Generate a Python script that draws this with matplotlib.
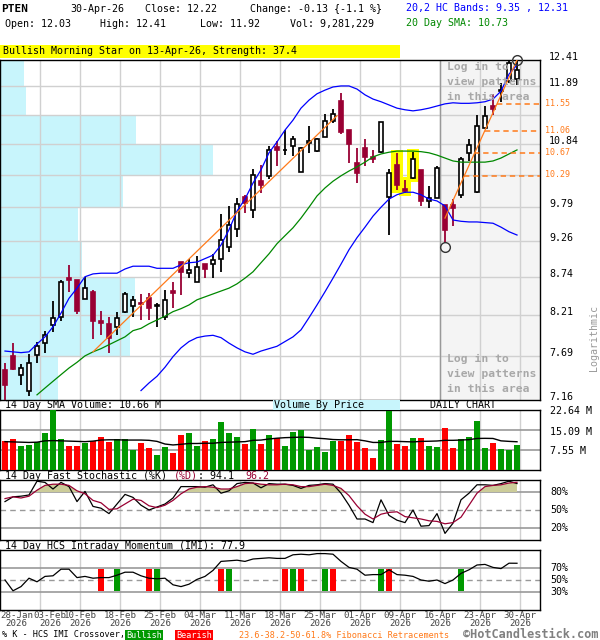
import numpy as np
import matplotlib
matplotlib.use("Agg")
import matplotlib.pyplot as plt
from matplotlib.patches import Rectangle
from matplotlib.ticker import NullLocator
from matplotlib.transforms import blended_transform_factory, offset_copy

# ---------------- data ----------------
opens = [7.52, 7.69, 7.45, 7.27, 7.70, 7.85, 8.09, 8.19, 8.72, 8.69,
         8.43, 8.52, 8.13, 8.10, 8.06, 8.25, 8.34, 8.38, 8.44, 8.34,
         8.19, 8.54, 8.95, 8.79, 8.67, 8.92, 8.92, 8.99, 9.17, 9.44,
         9.94, 9.73, 10.21, 10.28, 10.78, 10.72, 10.80, 10.36, 10.85, 10.71,
         10.96, 11.25, 11.61, 11.08, 10.51, 10.76, 10.61, 10.70, 9.94, 10.47,
         10.07, 10.25, 10.39, 9.88, 9.93, 9.82, 9.82, 9.98, 10.67, 10.03,
         11.12, 11.52, 11.81, 12.00, 12.03]
highs = [7.60, 7.85, 7.59, 7.71, 7.86, 8.00, 8.40, 8.69, 8.91, 8.70,
         8.74, 8.55, 8.27, 8.19, 8.25, 8.52, 8.47, 8.50, 8.51, 8.37,
         8.55, 8.67, 8.95, 9.00, 9.04, 8.92, 9.07, 9.68, 9.80, 9.92,
         9.98, 10.40, 10.47, 10.79, 10.89, 11.09, 10.97, 10.78, 11.15, 10.94,
         11.37, 11.46, 11.76, 11.08, 10.76, 10.92, 10.73, 11.23, 10.40, 10.68,
         10.22, 10.70, 10.39, 10.12, 10.45, 9.82, 9.91, 10.60, 10.92, 11.35,
         11.52, 11.74, 11.95, 12.38, 12.41]
lows = [7.16, 7.52, 7.33, 7.21, 7.60, 7.73, 7.99, 8.14, 8.53, 8.23,
        8.43, 7.90, 7.95, 7.72, 7.96, 8.24, 8.19, 8.15, 8.15, 8.06,
        8.15, 8.31, 8.48, 8.72, 8.67, 8.72, 8.72, 8.81, 9.09, 9.32,
        9.69, 9.61, 10.00, 10.24, 10.46, 10.65, 10.63, 10.35, 10.68, 10.70,
        10.95, 11.20, 11.01, 10.51, 10.17, 10.45, 10.50, 10.67, 9.35, 10.05,
        10.00, 10.23, 9.80, 9.76, 9.93, 9.23, 9.49, 9.93, 10.54, 10.00,
        11.12, 11.35, 11.60, 11.95, 11.92]
closes = [7.33, 7.53, 7.54, 7.60, 7.81, 7.95, 8.17, 8.66, 8.69, 8.27,
          8.58, 8.14, 8.11, 7.92, 8.17, 8.50, 8.42, 8.36, 8.31, 8.35,
          8.42, 8.51, 8.81, 8.84, 8.88, 8.85, 8.98, 9.28, 9.50, 9.83,
          9.85, 10.30, 10.14, 10.73, 10.73, 10.73, 10.92, 10.76, 10.89, 10.93,
          11.25, 11.37, 11.05, 10.83, 10.34, 10.61, 10.57, 11.23, 10.33, 10.14,
          10.04, 10.57, 9.88, 9.92, 10.42, 9.42, 9.77, 10.57, 10.82, 11.15,
          11.34, 11.46, 11.83, 12.35, 12.22]

volume_m = [11.07, 11.8, 9.06, 9.56, 10.4, 14.1, 22.64, 11.8, 9.06, 9.06,
            10.3, 10.8, 12.45, 10.7, 11.6, 11.6, 7.55, 10.3, 8.4, 5.8,
            8.7, 6.5, 13.3, 14.1, 9.2, 11.07, 11.8, 18.2, 14.1, 12.6,
            9.8, 15.6, 9.8, 13.3, 11.95, 9.06, 14.5, 15.2, 7.55, 8.7,
            6.8, 11.07, 11.07, 13.2, 10.6, 8.3, 4.5, 11.3, 22.4, 9.8,
            9.06, 12.1, 12.1, 9.06, 8.7, 15.85, 8.4, 11.7, 12.45, 18.5,
            8.3, 10.2, 7.9, 7.55, 9.28]
vol_sma_m = [10.7, 10.6, 10.5, 10.4, 10.5, 11.0, 11.1, 11.0, 10.9, 10.8,
             10.7, 10.9, 11.3, 11.4, 11.4, 11.3, 11.3, 11.3, 11.2, 10.8,
             9.8, 9.45, 9.7, 10.0, 10.0, 10.1, 10.1, 10.4, 10.5, 10.6,
             10.7, 11.2, 11.3, 11.7, 12.0, 12.2, 12.3, 12.4, 12.3, 12.0,
             11.8, 11.5, 11.4, 11.4, 11.45, 11.0, 10.4, 10.4, 10.8, 10.8,
             10.7, 10.6, 10.8, 10.85, 10.95, 11.2, 11.2, 11.3, 11.45, 11.9,
             11.95, 11.9, 11.0, 10.8, 10.66]

upper_band = [7.75, 7.74, 7.73, 7.74, 7.84, 7.93, 8.06, 8.24, 8.44, 8.58,
              8.74, 8.78, 8.79, 8.79, 8.79, 8.85, 8.89, 8.89, 8.89, 8.86,
              8.86, 8.86, 8.91, 8.94, 8.95, 9.00, 9.05, 9.20, 9.43, 9.72,
              9.91, 10.17, 10.39, 10.68, 10.87, 11.08, 11.26, 11.48, 11.63, 11.75,
              11.82, 11.88, 11.90, 11.90, 11.84, 11.73, 11.65, 11.60, 11.54, 11.48,
              11.45, 11.43, 11.45, 11.48, 11.52, 11.56, 11.58, 11.57, 11.57, 11.58,
              11.60, 11.65, 11.80, 12.13, 12.31]
lower_band_start = 17
lower_band = [7.27, 7.36, 7.44, 7.55, 7.68, 7.79, 7.87, 7.92, 7.94, 7.95,
              7.92, 7.85, 7.79, 7.74, 7.71, 7.75, 7.78, 7.81, 7.87, 7.93,
              8.02, 8.18, 8.35, 8.53, 8.72, 8.92, 9.13, 9.31, 9.47, 9.64,
              9.78, 9.91, 9.98, 10.02, 10.02, 9.98, 9.91, 9.88, 9.80, 9.58,
              9.56, 9.55, 9.55, 9.54, 9.53, 9.47, 9.40, 9.35]
sma20_start = 4
sma20 = [7.22, 7.30, 7.38, 7.46, 7.54, 7.61, 7.69, 7.74, 7.78, 7.83,
         7.88, 7.93, 8.01, 8.04, 8.10, 8.15, 8.20, 8.26, 8.30, 8.35,
         8.42, 8.46, 8.50, 8.54, 8.58, 8.64, 8.72, 8.81, 8.94, 9.07,
         9.22, 9.34, 9.46, 9.61, 9.78, 9.96, 10.09, 10.20, 10.29, 10.37,
         10.44, 10.52, 10.61, 10.66, 10.69, 10.71, 10.71, 10.71, 10.70, 10.68,
         10.64, 10.59, 10.54, 10.52, 10.52, 10.52, 10.52, 10.54, 10.59, 10.66,
         10.73]

stoch_k = [64, 72, 73, 75, 98, 96, 85, 96, 89, 64,
           81, 56, 53, 44, 60, 76, 71, 58, 50, 55,
           60, 70, 89, 89, 89, 88, 92, 78, 82, 94,
           96, 95, 87, 94, 93, 93, 91, 86, 91, 92,
           94, 93, 78, 58, 35, 35, 29, 67, 41, 33,
           29, 50, 23, 24, 44, 11, 28, 67, 78, 92,
           92, 91, 94, 98, 94.1]
stoch_d = [69, 72, 70, 73, 83, 91, 93, 93, 91, 82,
           77, 66, 62, 51, 52, 60, 68, 66, 57, 54,
           58, 66, 77, 85, 88, 89, 88, 85, 85, 89,
           94, 95, 93, 92, 92, 93, 92, 89, 89, 91,
           93, 91, 86, 74, 57, 43, 35, 43, 46, 47,
           39, 37, 35, 32, 31, 27, 29, 38, 58, 78,
           89, 91, 92, 95, 96.2]
imi = [50, 32, 39, 53, 47, 56, 57, 68, 68, 54,
       56, 53, 54, 54, 58, 63, 63, 57, 53, 52,
       53, 42, 39, 43, 51, 56, 66, 81, 82, 83,
       81, 85, 86, 87, 86, 86, 92, 93, 92, 94,
       94, 93, 81, 71, 68, 58, 59, 59, 67, 59,
       58, 56, 50, 48, 50, 44, 50, 61, 67, 75,
       76, 71, 69, 78, 77.9]
bull_cross = [14, 19, 28, 36, 40, 47, 57]
bear_cross = [12, 18, 27, 35, 37, 41, 48]

date_idx = [0, 4, 9, 14, 19, 24, 29, 34, 39, 44, 49, 54, 59, 64]
date_labels = ["28-Jan", "03-Feb", "10-Feb", "18-Feb", "25-Feb", "04-Mar", "11-Mar",
               "18-Mar", "25-Mar", "01-Apr", "09-Apr", "16-Apr", "23-Apr", "30-Apr"]
year_label = "2026"

price_grid = [7.69, 8.21, 8.74, 9.26, 9.79, 10.31, 10.84, 11.36, 11.89]
price_labels = [12.41, 11.89, 10.84, 9.79, 9.26, 8.74, 8.21, 7.69, 7.16]
vbp_edges = [7.16, 7.69, 8.21, 8.74, 9.26, 9.79, 10.31, 10.84, 11.36, 11.89, 12.41]
vbp_volume_m = [40.6, 91.0, 94.5, 57.4, 54.6, 86.1, 149.1, 95.2, 18.2, 16.8]
volume_grid = [7.55, 15.09]
volume_labels = [22.64, 15.09, 7.55]

morning_star_idx = [49, 50, 51]
trend1_idx = [11, 41.5]
trend1_price = [7.74, 11.34]
trend2_idx = [55, 64]
trend2_price = [9.61, 12.41]
fib_levels = [11.55, 11.06, 10.67, 10.29]
marked_low_idx = 55
marked_high_idx = 64
pattern_area_idx = 54

# ---------------- style ----------------
W, H = 600, 640
FS = 7.2
RED_C = '#990033'
GRID = '#d0d0d0'
LINE_G = '#999999'
CYAN = '#c8f5fc'
ORANGE = '#ff7a1a'
BLUE = '#0000ff'
N = len(closes)
idx = np.arange(N)
XMIN, XMAX = -0.625, 66.875
TICK_OFF = 0.375

plt.rcParams['font.family'] = ['DejaVu Sans Mono', 'DejaVu Sans']
plt.rcParams['axes.linewidth'] = 1.0

fig = plt.figure(figsize=(6.0, 6.4), dpi=100)
fig.patch.set_facecolor('white')


def px_box(x0, y0, x1, y1):
    return [x0 / W, 1 - y1 / H, (x1 - x0) / W, (y1 - y0) / H]


def ftext(x, y, s, **kw):
    kw.setdefault('fontsize', FS)
    kw.setdefault('va', 'center')
    kw.setdefault('ha', 'left')
    return fig.text(x / W, 1 - y / H, s, **kw)


def frect(x0, y0, x1, y1, color):
    fig.add_artist(Rectangle((x0 / W, 1 - y1 / H), (x1 - x0) / W, (y1 - y0) / H,
                             transform=fig.transFigure, facecolor=color,
                             edgecolor='none', zorder=1))


def clean(a):
    a.set_xlim(XMIN, XMAX)
    a.xaxis.set_major_locator(NullLocator())
    a.xaxis.set_minor_locator(NullLocator())
    a.yaxis.set_major_locator(NullLocator())
    a.yaxis.set_minor_locator(NullLocator())
    for s in a.spines.values():
        s.set_color('black')
    for t in date_idx[1:]:
        a.axvline(t + TICK_OFF, color=GRID, lw=1.0, zorder=1.5)


o = np.array(opens); h = np.array(highs); l = np.array(lows); c = np.array(closes)
up = c >= o

# ---------------- header ----------------
ftext(1, 9, "PTEN", fontweight='bold', fontsize=8)
ftext(70, 9, "30-Apr-26")
ftext(145, 9, "Close: 12.22")
ftext(250, 9, "Change: -0.13 {-1.1 %}")
ftext(5, 24, "Open: 12.03")
ftext(100, 24, "High: 12.41")
ftext(200, 24, "Low: 11.92")
ftext(290, 24, "Vol: 9,281,229")
ftext(406, 8, f"20,2 HC Bands: {lower_band[-1]:.2f} , {upper_band[-1]:.2f}", color=BLUE)
ftext(406, 23, f"20 Day SMA: {sma20[-1]:.2f}", color='#008800')
frect(0, 45, 400, 57.5, '#ffff00')
ftext(3, 51.5, "Bullish Morning Star on 13-Apr-26, Strength: 37.4")

# ---------------- main price panel ----------------
ax = fig.add_axes(px_box(0, 60, 540, 400))
ax.set_yscale('log')
clean(ax)
ax.set_ylim(7.16, 12.41)
ax.yaxis.set_major_locator(NullLocator())
ax.yaxis.set_minor_locator(NullLocator())
tr = blended_transform_factory(ax.transAxes, ax.transData)

vmax = max(vbp_volume_m)
for lo, hi, v in zip(vbp_edges[:-1], vbp_edges[1:], vbp_volume_m):
    ax.add_patch(Rectangle((0, lo), v / vmax * 0.394, hi - lo, transform=tr,
                           facecolor=CYAN, edgecolor='none', zorder=1))
ax.axvspan(pattern_area_idx + TICK_OFF, XMAX, color='#f4f4f4', zorder=0.8, lw=0)
for p in price_grid:
    ax.axhline(p, color=GRID, lw=1.0, zorder=1.5)
ax.axvline(pattern_area_idx + TICK_OFF, color='#999999', lw=1.0, zorder=1.6)

for i in morning_star_idx:
    ax.add_patch(Rectangle((i - 0.69, l[i] / 1.0045), 1.38, h[i] * 1.0045 - l[i] / 1.0045,
                           facecolor='#ffff00', edgecolor='none', zorder=2))

wick_col = ['black' if u else RED_C for u in up]
face_col = ['white' if u else RED_C for u in up]
ax.vlines(idx, l, h, colors=wick_col, lw=1.3, zorder=4)
ax.bar(idx, np.maximum(np.abs(c - o), 0.004), bottom=np.minimum(o, c), width=0.62,
       color=face_col, edgecolor=wick_col, linewidth=1.2, zorder=5)

ax.plot(idx, upper_band, color=BLUE, lw=0.9, zorder=6)
ax.plot(idx[lower_band_start:], lower_band, color=BLUE, lw=0.9, zorder=6)
ax.plot(idx[sma20_start:], sma20, color='#008800', lw=0.9, zorder=6)
ax.plot(trend1_idx, trend1_price, color=ORANGE, lw=0.9, zorder=6)
ax.plot(trend2_idx, trend2_price, color=ORANGE, lw=0.9, zorder=6)

t_lo, t_hi = np.log(trend2_price)
for lev in fib_levels:
    start = trend2_idx[0] + (trend2_idx[1] - trend2_idx[0]) * (np.log(lev) - t_lo) / (t_hi - t_lo)
    ax.plot([start, XMAX], [lev, lev], color=ORANGE, lw=1.1, ls=(0, (3.5, 2.5)), zorder=6)
    ax.text(545 / 540, lev, f"{lev:.2f}", transform=offset_copy(tr, fig=fig, y=1, units='dots'),
            color=ORANGE, fontsize=6, va='center', ha='left', clip_on=False)

ax.plot([marked_low_idx], [l[marked_low_idx]], marker='o', ms=7, mfc='none', mec='#333333',
        mew=1.0, transform=offset_copy(ax.transData, fig=fig, y=-4, units='dots'),
        zorder=7, clip_on=False)
ax.plot([marked_high_idx], [h[marked_high_idx]], marker='o', ms=7, mfc='none', mec='#333333',
        mew=1.0, zorder=7, clip_on=False)

for p in price_labels:
    ax.text(549 / 540, p, f"{p:.2f}", transform=offset_copy(tr, fig=fig, y=3, units='dots'),
            fontsize=FS, va='center', ha='left', clip_on=False)

for k, s in enumerate(["Log in to", "view patterns", "in this area"]):
    ftext(447, 67 + 15 * k, s, fontweight='bold', color='#a8a8a8', fontsize=8.2)
    ftext(447, 359 + 15 * k, s, fontweight='bold', color='#a8a8a8', fontsize=8.2)

ftext(594, 338, "Logarithmic", rotation=90, ha='center', color='#999999')

# ---------------- volume panel ----------------
frect(273, 400, 400, 410, CYAN)
ftext(5, 405.5, f"14 Day SMA Volume: {vol_sma_m[-1]:.2f} M")
ftext(274, 405.5, "Volume By Price")
ftext(430, 405.5, "DAILY CHART")

axv = fig.add_axes(px_box(0, 410, 540, 470))
clean(axv)
axv.set_ylim(0, 22.64)
for lv in volume_grid:
    axv.axhline(lv, color=LINE_G, lw=1.2, zorder=1.6)
vol_col = ['#009900' if u else '#ff0000' for u in up]
axv.bar(idx, volume_m, width=0.75, color=vol_col, zorder=3)
axv.plot(idx, vol_sma_m, color='black', lw=1.0, zorder=4)
trv = blended_transform_factory(axv.transAxes, axv.transData)
for v in volume_labels:
    axv.text(550 / 540, v, f"{v:.2f} M", transform=offset_copy(trv, fig=fig, y=-1.5, units='dots'),
             fontsize=FS, va='center', ha='left', clip_on=False)

# ---------------- stochastic panel ----------------
segs = [("14 Day Fast Stochastic (%K) ", 'black'), ("(%D)", RED_C),
        (f": {stoch_k[-1]:.1f}  ", 'black'), (f"{stoch_d[-1]:.1f}", RED_C)]
pos = 0
for s, col in segs:
    ftext(5 + 6.02 * pos, 476, s, color=col)
    pos += len(s)

axs = fig.add_axes(px_box(0, 480, 540, 540))
clean(axs)
axs.set_ylim(0, 100)
for lv in (80, 20):
    axs.axhline(lv, color=LINE_G, lw=1.2, zorder=1.6)
axs.axhline(50, color=LINE_G, lw=1.0, ls=(0, (4, 3)), zorder=1.6)
kd = np.array(stoch_d)
axs.fill_between(idx, 80, kd, where=kd >= 80, interpolate=True, color='#cccc99', lw=0, zorder=2)
axs.plot(idx, stoch_k, color='black', lw=0.9, zorder=4)
axs.plot(idx, stoch_d, color=RED_C, lw=0.9, zorder=4)
trs = blended_transform_factory(axs.transAxes, axs.transData)
for v in (80, 50, 20):
    axs.text(550 / 540, v, f"{v}%", transform=trs, fontsize=FS, va='center', ha='left', clip_on=False)

# ---------------- IMI panel ----------------
ftext(5, 546, f"14 Day HCS Intraday Momentum (IMI): {imi[-1]:.1f}")
axi = fig.add_axes(px_box(0, 550, 540, 610))
clean(axi)
axi.set_ylim(0, 100)
for lv in (70, 30):
    axi.axhline(lv, color=LINE_G, lw=1.2, zorder=1.6)
axi.axhline(50, color=LINE_G, lw=1.0, ls=(0, (4, 3)), zorder=1.6)
axi.bar(bull_cross, 36, bottom=32, width=0.75, color='#009900', zorder=3)
axi.bar(bear_cross, 36, bottom=32, width=0.75, color='#ff0000', zorder=3)
axi.plot(idx, imi, color='black', lw=0.9, zorder=4)
tri = blended_transform_factory(axi.transAxes, axi.transData)
for v in (70, 50, 30):
    axi.text(550 / 540, v, f"{v}%", transform=tri, fontsize=FS, va='center', ha='left', clip_on=False)

# date labels (pixel layout: candle i sits at 5 + 8 i px, label 3 px to its right)
for k, (i, lab) in enumerate(zip(date_idx, date_labels)):
    xpx = 5 + 8 * (i + TICK_OFF)
    if k == 0:
        xpx = 16.5
    elif k == 1:
        xpx += 10
    ftext(xpx, 619.5, f"{lab}\n{year_label}", color='#444444', ha='center',
          fontsize=6.6, linespacing=0.92)

# ---------------- bottom legend ----------------
ftext(2, 635, "% K - HCS IMI Crossover,", fontsize=6.1)
frect(125, 630, 163, 640, '#009900')
ftext(144, 635, "Bullish", fontsize=6.1, color='white', ha='center')
frect(175, 630, 213, 640, '#ff0000')
ftext(194, 635, "Bearish", fontsize=6.1, color='white', ha='center')
ftext(239, 635, "23.6-38.2-50-61.8% Fibonacci Retracements", fontsize=6.1, color=ORANGE)
ftext(463, 634.5, "\u00a9HotCandlestick.com", fontsize=8.6, fontweight='bold', color='#808080')

fig.savefig('out.png', dpi=100)
